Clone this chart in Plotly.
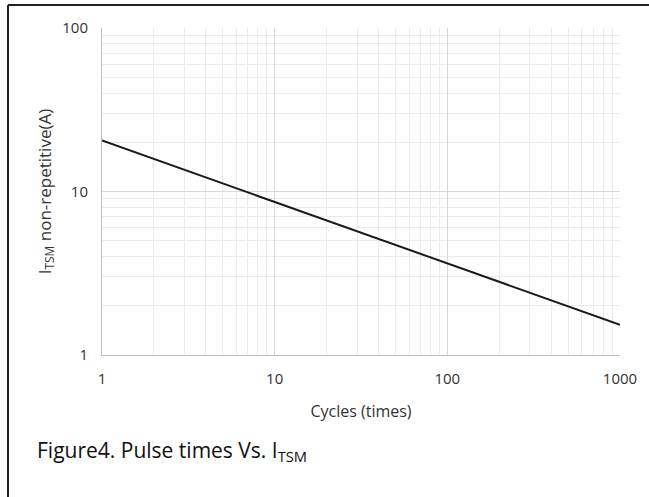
import plotly.graph_objects as go

cycles = [1, 10, 100, 1000]
itsm = [20.5, 8.6, 3.62, 1.53]

x_tickvals = [1, 10, 100, 1000]
x_ticktext = ["1", "10", "100", "1000"]
y_tickvals = [1, 10, 100]
y_ticktext = ["1", "10", "100"]

FONT = "Open Sans"
L, R, T, B = 102, 29, 28, 142
W, H = 649, 497
pw = W - L - R
ph = H - T - B

fig = go.Figure()
fig.add_trace(go.Scatter(x=cycles, y=itsm, mode="lines",
                         line=dict(color="#1a1a1a", width=2), showlegend=False))

grid_major = "#d9d9d9"
grid_minor = "#ebebeb"

fig.update_xaxes(type="log", range=[0, 3], tickvals=x_tickvals, ticktext=x_ticktext,
                 showgrid=True, gridcolor=grid_major, gridwidth=1,
                 minor=dict(dtick="D1", showgrid=True, gridcolor=grid_minor, gridwidth=1),
                 showline=True, linecolor="#bfbfbf", linewidth=1, mirror=False,
                 ticks="", ticklabelstandoff=10, zeroline=False,
                 tickfont=dict(family=FONT, size=15, color="#333333"),
                 title=dict(text="Cycles (times)", font=dict(family=FONT, size=16, color="#333333"),
                            standoff=18))
fig.update_yaxes(type="log", range=[0, 2], tickvals=y_tickvals, ticktext=y_ticktext,
                 showgrid=True, gridcolor=grid_major, gridwidth=1,
                 minor=dict(dtick="D1", showgrid=True, gridcolor=grid_minor, gridwidth=1),
                 showline=True, linecolor="#bfbfbf", linewidth=1, mirror=False,
                 ticks="", ticklabelstandoff=10, zeroline=False,
                 tickfont=dict(family=FONT, size=15, color="#333333"),
                 title=dict(text="I<sub>TSM</sub> non-repetitive(A)",
                            font=dict(family=FONT, size=17, color="#333333"), standoff=6))

# outer frame (top and left edges visible)
fx = (8 - L) / pw
fy = 1 + (T - 5) / ph
fig.add_shape(type="line", xref="paper", yref="paper", x0=fx, x1=2, y0=fy, y1=fy,
              line=dict(color="#222222", width=2))
fig.add_shape(type="line", xref="paper", yref="paper", x0=fx, x1=fx, y0=fy, y1=-2,
              line=dict(color="#222222", width=2))

fig.add_annotation(text="Figure4. Pulse times Vs. I<sub>TSM</sub>", xref="paper", yref="paper",
                   x=(35 - L) / pw, y=1 - (451 - T) / ph, xanchor="left", yanchor="middle",
                   showarrow=False, font=dict(family=FONT, size=21, color="#111111"))

fig.update_layout(width=W, height=H, margin=dict(l=L, r=R, t=T, b=B, autoexpand=False),
                  paper_bgcolor="white", plot_bgcolor="white")

fig.write_html("out.html")
